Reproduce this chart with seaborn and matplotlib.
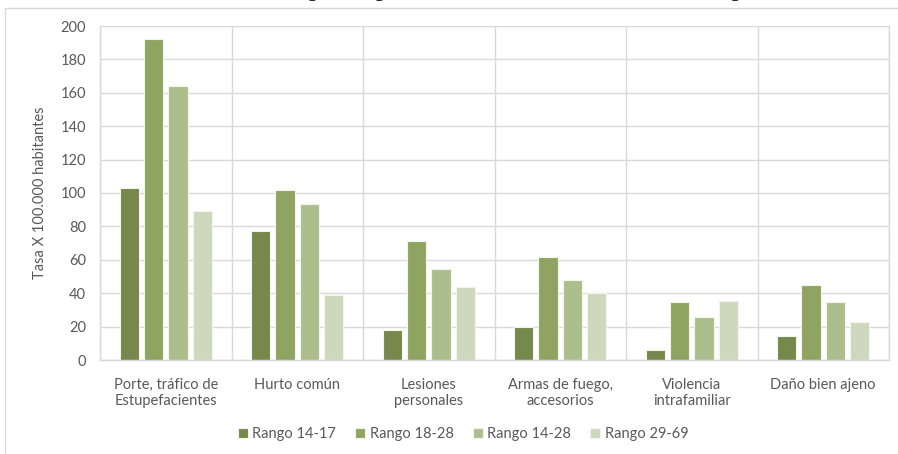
import matplotlib
matplotlib.use("Agg")
import matplotlib.pyplot as plt
from matplotlib.patches import Rectangle
import seaborn as sns
import pandas as pd

categories = ["Porte, tráfico de\nEstupefacientes", "Hurto común", "Lesiones\npersonales",
              "Armas de fuego,\naccesorios", "Violencia\nintrafamiliar", "Daño bien ajeno"]
series_names = ["Rango 14-17", "Rango 18-28", "Rango 14-28", "Rango 29-69"]
rango_14_17 = [103, 77, 18, 19.5, 6, 14.5]
rango_18_28 = [192, 102, 71.5, 61.5, 35, 45]
rango_14_28 = [164, 93.5, 54.5, 48, 25.5, 35]
rango_29_69 = [89.5, 39, 43.5, 40, 35.5, 23]
colors = ["#7A9242", "#93AF55", "#AFC685", "#CFDCB8"]
y_label = "Tasa X 100.000 habitantes"

rows = []
for name, vals in zip(series_names, [rango_14_17, rango_18_28, rango_14_28, rango_29_69]):
    for c, v in zip(categories, vals):
        rows.append({"cat": c, "serie": name, "valor": v})
df = pd.DataFrame(rows)

sns.set_theme(style="white")
plt.rcParams["font.family"] = ["Lato", "DejaVu Sans"]

fig = plt.figure(figsize=(8.98, 4.54), dpi=100)
ax = fig.add_axes([100 / 898, 1 - 360 / 454, 789 / 898, 334 / 454])

sns.barplot(data=df, x="cat", y="valor", hue="serie", order=categories,
            hue_order=series_names, palette=colors, width=0.74, gap=0.2,
            edgecolor="#F2F5EC", linewidth=0.8, ax=ax, legend=True)

ax.set_ylim(0, 200)
ax.set_xlim(-0.5, 5.5)
ax.set_yticks(range(0, 201, 20))
ax.set_xticks([i - 0.5 for i in range(7)], minor=True)
ax.grid(axis="y", color="#D9D9D9", linewidth=1)
ax.grid(axis="x", which="minor", color="#D9D9D9", linewidth=1)
ax.set_axisbelow(True)
for s in ax.spines.values():
    s.set_color("#D9D9D9")
    s.set_linewidth(1)
ax.spines["top"].set_visible(False)
ax.tick_params(axis="both", which="both", length=0, colors="#595959", labelsize=10.5)
ax.tick_params(axis="x", pad=13)
ax.tick_params(axis="y", pad=10)
ax.set_xlabel("")
ax.set_ylabel(y_label, color="#595959", fontsize=10.5, labelpad=10)

leg = ax.legend(loc="center", bbox_to_anchor=(0.46, -(434 - 360) / 334), ncol=4, frameon=False,
                fontsize=10.5, handlelength=0.7, handleheight=0.7, handletextpad=0.3,
                columnspacing=1.3)
for t in leg.get_texts():
    t.set_color("#595959")

fig.patches.append(Rectangle((5 / 898, -0.01), 900 / 898, 1 - 8 / 454 + 0.01,
                             transform=fig.transFigure, fill=False,
                             edgecolor="#D9D9D9", linewidth=1))
fig.text(0.005, 1 + 4 / 454, "ones, de lo cual se evidencia en la siguiente gráfica, la tasa en relación al número de ingreso",
         family="Liberation Serif", fontsize=15, va="baseline", ha="left", color="black")

fig.savefig("out.png", dpi=100)
